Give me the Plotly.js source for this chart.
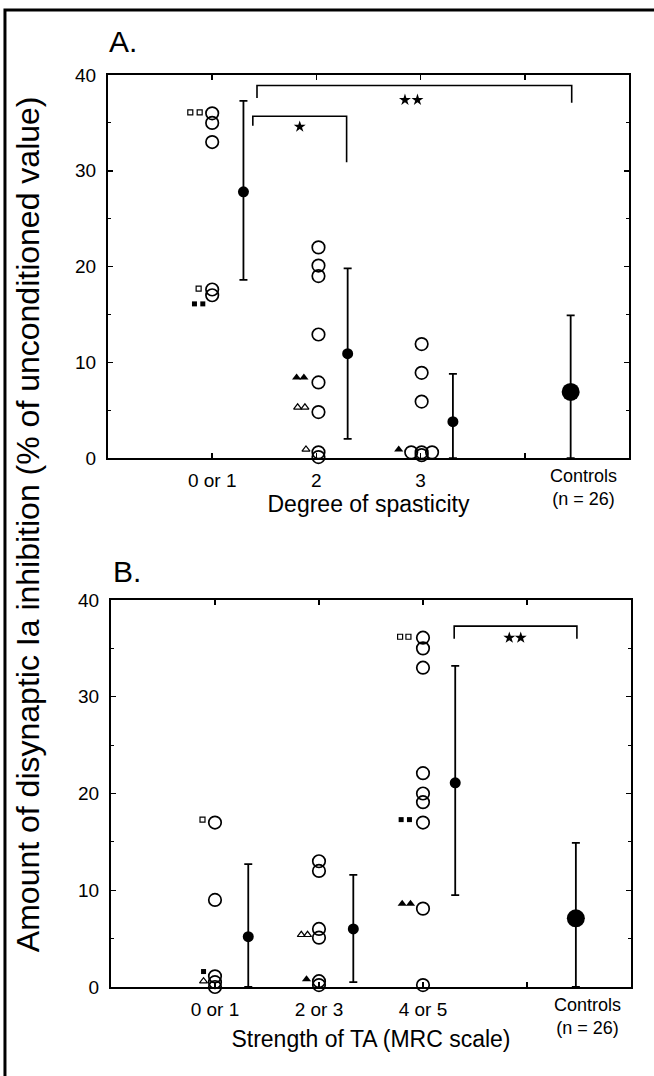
<!DOCTYPE html>
<html>
<head>
<meta charset="utf-8">
<script src="https://cdn.plot.ly/plotly-3.0.1.min.js"></script>
<style>html,body{margin:0;padding:0;background:#fff;}#chart{width:654px;height:1076px;}</style>
</head>
<body>
<div id="chart"></div>
<script>
// ---------- Panel A : Degree of spasticity ----------
const catA = ['0 or 1', '2', '3', ''];
const aCircX = [1, 1, 1, 1, 1, 2.02, 2.02, 2.02, 2.02, 2.02, 2.02, 2.02, 2.02, 3.01, 3.01, 3.01, 2.91, 3.01, 3.11, 3.01];
const aCircY = [36.0, 35.0, 33.0, 17.6, 17.0, 22.0, 20.1, 19.0, 12.9, 7.9, 4.8, 0.6, 0.1, 11.9, 8.9, 5.9, 0.6, 0.6, 0.6, 0.3];
const aOpenSqX = [0.79, 0.88, 0.87];
const aOpenSqY = [36.1, 36.1, 17.7];
const aFillSqX = [0.83, 0.91, 1.91];
const aFillSqY = [16.1, 16.1, -0.8];
const aFillTriX = [1.81, 1.88, 2.79];
const aFillTriY = [8.4, 8.4, 0.9];
const aOpenTriX = [1.82, 1.89, 1.90];
const aOpenTriY = [5.3, 5.3, 0.9];
const aMeanX = [1.30, 2.30, 3.31];
const aMeanY = [27.8, 10.9, 3.8];
const aErrUp = [9.5, 8.9, 5.0];
const aErrDown = [9.2, 8.9, 3.8];
const aCtrlX = [4.44];
const aCtrlY = [6.9];
const aCtrlUp = [8.0];
const aCtrlDown = [6.9];
// significance brackets (panel A)
const aBr1X = [1.39, 1.39, 2.29, 2.29];
const aBr1Y = [34.7, 35.7, 35.7, 30.9];
const aStar1X = [1.84];
const aStar1Y = [34.6];
const aBr2X = [1.43, 1.43, 4.45, 4.45];
const aBr2Y = [37.6, 38.9, 38.9, 37.1];
const aStar2X = [2.85, 2.97];
const aStar2Y = [37.4, 37.4];

// ---------- Panel B : Strength of TA ----------
const catB = ['0 or 1', '2 or 3', '4 or 5', ''];
const bCircX = [1, 1, 1, 1, 1, 2, 2, 2, 2, 2, 2, 3, 3, 3, 3, 3, 3, 3, 3, 3];
const bCircY = [17.0, 9.0, 1.1, 0.5, 0.0, 13.0, 12.0, 6.0, 5.1, 0.6, 0.2, 36.1, 35.0, 33.0, 22.1, 20.0, 19.1, 17.0, 8.1, 0.2];
const bOpenSqX = [0.88, 2.78, 2.86];
const bOpenSqY = [17.3, 36.2, 36.2];
const bFillSqX = [0.89, 2.79, 2.87];
const bFillSqY = [1.6, 17.3, 17.3];
const bOpenTriX = [0.89, 1.83, 1.89];
const bOpenTriY = [0.6, 5.4, 5.4];
const bFillTriX = [1.88, 2.80, 2.88];
const bFillTriY = [0.8, 8.6, 8.6];
const bMeanX = [1.32, 2.33, 3.31];
const bMeanY = [5.2, 6.0, 21.1];
const bErrUp = [7.5, 5.6, 12.1];
const bErrDown = [5.2, 5.5, 11.6];
const bCtrlX = [4.47];
const bCtrlY = [7.1];
const bCtrlUp = [7.8];
const bCtrlDown = [7.1];
const bBrX = [3.30, 3.30, 4.48, 4.48];
const bBrY = [36.0, 37.3, 37.3, 36.0];
const bStarX = [3.83, 3.94];
const bStarY = [36.1, 36.1];

const controlsLabel = 'Controls<br>(n = 26)';
const yTitle = 'Amount of disynaptic Ia inhibition (% of unconditioned value)';

const FONT = 'Liberation Sans, Arial, Helvetica, sans-serif';
const K = '#000';

function panelTraces(xa, ya, d) {
  const base = {xaxis: xa, yaxis: ya, type: 'scatter', hoverinfo: 'skip', cliponaxis: false};
  return [
    Object.assign({}, base, {x: d.br1X, y: d.br1Y, mode: 'lines', line: {color: K, width: 1.6}}),
    d.br2X ? Object.assign({}, base, {x: d.br2X, y: d.br2Y, mode: 'lines', line: {color: K, width: 1.6}}) : null,
    Object.assign({}, base, {x: d.star1X, y: d.star1Y, mode: 'markers', marker: {symbol: 'star', size: 9, color: K}}),
    d.star2X ? Object.assign({}, base, {x: d.star2X, y: d.star2Y, mode: 'markers', marker: {symbol: 'star', size: 9, color: K}}) : null,
    Object.assign({}, base, {x: d.circX, y: d.circY, mode: 'markers',
      marker: {symbol: 'circle-open', size: 12.5, color: K, line: {width: 1.7, color: K}}}),
    Object.assign({}, base, {x: d.oSqX, y: d.oSqY, mode: 'markers',
      marker: {symbol: 'square-open', size: 5, color: K, line: {width: 1.2, color: K}}}),
    Object.assign({}, base, {x: d.fSqX, y: d.fSqY, mode: 'markers',
      marker: {symbol: 'square', size: 5, color: K}}),
    Object.assign({}, base, {x: d.oTriX, y: d.oTriY, mode: 'markers',
      marker: {symbol: 'triangle-up-open', size: 7, color: K, line: {width: 1.2, color: K}}}),
    Object.assign({}, base, {x: d.fTriX, y: d.fTriY, mode: 'markers',
      marker: {symbol: 'triangle-up', size: 8, color: K}}),
    Object.assign({}, base, {x: d.meanX, y: d.meanY, mode: 'markers',
      marker: {symbol: 'circle', size: 11, color: K},
      error_y: {type: 'data', symmetric: false, array: d.up, arrayminus: d.down, color: K, thickness: 1.8, width: 4}}),
    Object.assign({}, base, {x: d.ctrlX, y: d.ctrlY, mode: 'markers',
      marker: {symbol: 'circle', size: 18, color: K},
      error_y: {type: 'data', symmetric: false, array: d.ctrlUp, arrayminus: d.ctrlDown, color: K, thickness: 1.8, width: 4}})
  ].filter(Boolean);
}

const traces = [].concat(
  panelTraces('x', 'y', {
    br1X: aBr1X, br1Y: aBr1Y, br2X: aBr2X, br2Y: aBr2Y,
    star1X: aStar1X, star1Y: aStar1Y, star2X: aStar2X, star2Y: aStar2Y,
    circX: aCircX, circY: aCircY, oSqX: aOpenSqX, oSqY: aOpenSqY, fSqX: aFillSqX, fSqY: aFillSqY,
    oTriX: aOpenTriX, oTriY: aOpenTriY, fTriX: aFillTriX, fTriY: aFillTriY,
    meanX: aMeanX, meanY: aMeanY, up: aErrUp, down: aErrDown,
    ctrlX: aCtrlX, ctrlY: aCtrlY, ctrlUp: aCtrlUp, ctrlDown: aCtrlDown}),
  panelTraces('x2', 'y2', {
    br1X: bBrX, br1Y: bBrY, star1X: bStarX, star1Y: bStarY,
    circX: bCircX, circY: bCircY, oSqX: bOpenSqX, oSqY: bOpenSqY, fSqX: bFillSqX, fSqY: bFillSqY,
    oTriX: bOpenTriX, oTriY: bOpenTriY, fTriX: bFillTriX, fTriY: bFillTriY,
    meanX: bMeanX, meanY: bMeanY, up: bErrUp, down: bErrDown,
    ctrlX: bCtrlX, ctrlY: bCtrlY, ctrlUp: bCtrlUp, ctrlDown: bCtrlDown})
);

function xAxis(domain, anchor, cats, title, standoff) {
  return {
    domain: domain, anchor: anchor, range: [0, 5],
    tickmode: 'array', tickvals: [1, 2, 3, 4], ticktext: cats,
    ticks: 'inside', ticklen: 5, tickwidth: 1.5, tickcolor: K,
    showline: true, linewidth: 2, linecolor: K, mirror: 'ticks',
    showgrid: false, zeroline: false, fixedrange: true,
    ticklabelstandoff: 4,
    tickfont: {family: FONT, size: 19, color: K},
    title: {text: title, font: {family: FONT, size: 23, color: K}, standoff: standoff}
  };
}
function yAxis(domain, anchor) {
  return {
    domain: domain, anchor: anchor, range: [0, 40],
    tickmode: 'linear', tick0: 0, dtick: 10,
    ticks: 'inside', ticklen: 5, tickwidth: 1.5, tickcolor: K,
    minor: {dtick: 5, tick0: 0, ticks: 'inside', ticklen: 3, tickwidth: 1.2, tickcolor: K, showgrid: false},
    showline: true, linewidth: 2, linecolor: K, mirror: 'ticks',
    showgrid: false, zeroline: false, fixedrange: true,
    ticklabelstandoff: 6,
    tickfont: {family: FONT, size: 19, color: K}
  };
}

const layout = {
  width: 654, height: 1076,
  margin: {l: 0, r: 0, t: 0, b: 0},
  paper_bgcolor: '#fff', plot_bgcolor: '#fff',
  showlegend: false,
  font: {family: FONT, color: K},
  xaxis: xAxis([0.1651, 0.9618], 'y', catA, 'Degree of spasticity', 4),
  yaxis: yAxis([0.5743, 0.9303], 'x'),
  xaxis2: xAxis([0.1697, 0.9648], 'y2', catB, 'Strength of TA (MRC scale)', 12),
  yaxis2: yAxis([0.0827, 0.4424], 'x2'),
  shapes: [{
    type: 'path', xref: 'paper', yref: 'paper',
    path: 'M 0.0076 0 L 0.0076 0.9907 L 1 0.9907',
    line: {color: K, width: 3}
  }],
  annotations: [
    {text: 'A.', xref: 'paper', yref: 'paper', x: 0.1636, y: 0.961, xanchor: 'left', yanchor: 'middle',
     showarrow: false, font: {family: FONT, size: 30, color: K}},
    {text: 'B.', xref: 'paper', yref: 'paper', x: 0.1697, y: 0.469, xanchor: 'left', yanchor: 'middle',
     showarrow: false, font: {family: FONT, size: 30, color: K}},
    {text: controlsLabel, xref: 'x', yref: 'y', x: aCtrlX[0], y: 0, xanchor: 'center', yanchor: 'top', yshift: -6, xshift: 13,
     showarrow: false, font: {family: FONT, size: 18, color: K}},
    {text: controlsLabel, xref: 'x2', yref: 'y2', x: bCtrlX[0], y: 0, xanchor: 'center', yanchor: 'top', yshift: -6, xshift: 12,
     showarrow: false, font: {family: FONT, size: 18, color: K}},
    {text: yTitle, xref: 'paper', yref: 'paper', x: 0.043, y: 0.513, xanchor: 'center', yanchor: 'middle',
     textangle: -90, showarrow: false, font: {family: FONT, size: 32, color: K}}
  ]
};

Plotly.newPlot('chart', traces, layout, {staticPlot: true, displayModeBar: false});
</script>
</body>
</html>
